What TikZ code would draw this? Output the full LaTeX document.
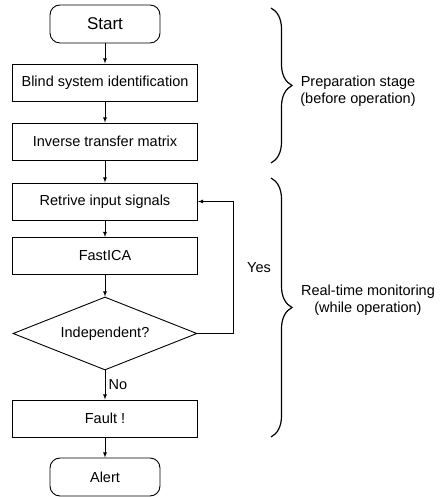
\documentclass[tikz,border=0pt]{standalone}
\usepackage{fontspec}
\setmainfont{Liberation Sans}
\usepackage{tikz}
\usetikzlibrary{shapes.geometric, arrows, decorations.pathreplacing}
\tikzstyle{arrow} = [line width=0.8pt,->,>=latex]
\tikzstyle{process} = [rectangle, draw, line width=0.9pt, minimum width=185pt, minimum height=37pt, align=center]
\tikzstyle{terminal} = [rectangle, rounded corners=10pt, draw, line width=0.9pt, minimum width=110pt, minimum height=38pt, align=center]
\tikzstyle{decision} = [diamond, draw, line width=0.9pt, aspect=2.52, inner sep=0pt, minimum width=184pt, minimum height=73pt, align=center]
\tikzstyle{stage} = [decorate, decoration={brace, amplitude=21pt}, line width=1.2pt]

\begin{document}
\begin{tikzpicture}[node distance=58pt, auto, font=\fontsize{14.5}{17}\selectfont]
  \useasboundingbox (0,0) rectangle (439pt,497pt);
  \node (start) [terminal, font=\fontsize{17}{20}\selectfont] at (105pt,473pt) {Start};
  \node (blind) [process, below of=start, node distance=58.5pt] {Blind system identification};
  \node (inverse) [process, below of=blind, node distance=59pt] {Inverse transfer matrix};
  \node (retrive) [process, below of=inverse, node distance=60pt] {Retrive input signals};
  \node (fastica) [process, below of=retrive, node distance=54.5pt] {FastICA};
  \node (indep) [decision, below of=fastica, node distance=77.5pt] {Independent?};
  \node (fault) [process, below of=indep, node distance=85pt] {Fault !};
  \node (alert) [terminal, below of=fault, node distance=58.5pt] {Alert};

  \draw[arrow] (start) -- (blind);
  \draw[arrow] (blind) -- (inverse);
  \draw[arrow] (inverse) -- (retrive);
  \draw[arrow] (retrive) -- (fastica);
  \draw[arrow] (fastica) -- (indep);
  \draw[arrow] (indep) -- node[right] {No} (fault);
  \draw[arrow] (fault) -- (alert);
  \draw[arrow] (indep.east) -- ++(36pt,0) |- node[pos=0.25, right=10pt] {Yes} (retrive.east);

  % stages
  \draw[stage] (271pt,489pt) -- (271pt,334pt);
  \draw[stage] (271pt,319pt) -- (271pt,60pt);
  \node (prep) [align=center] at (358pt,406pt) {Preparation stage\\(before operation)};
  \node (monitor) [align=center] at (368pt,197pt) {Real-time monitoring\\(while operation)};
\end{tikzpicture}
\end{document}
